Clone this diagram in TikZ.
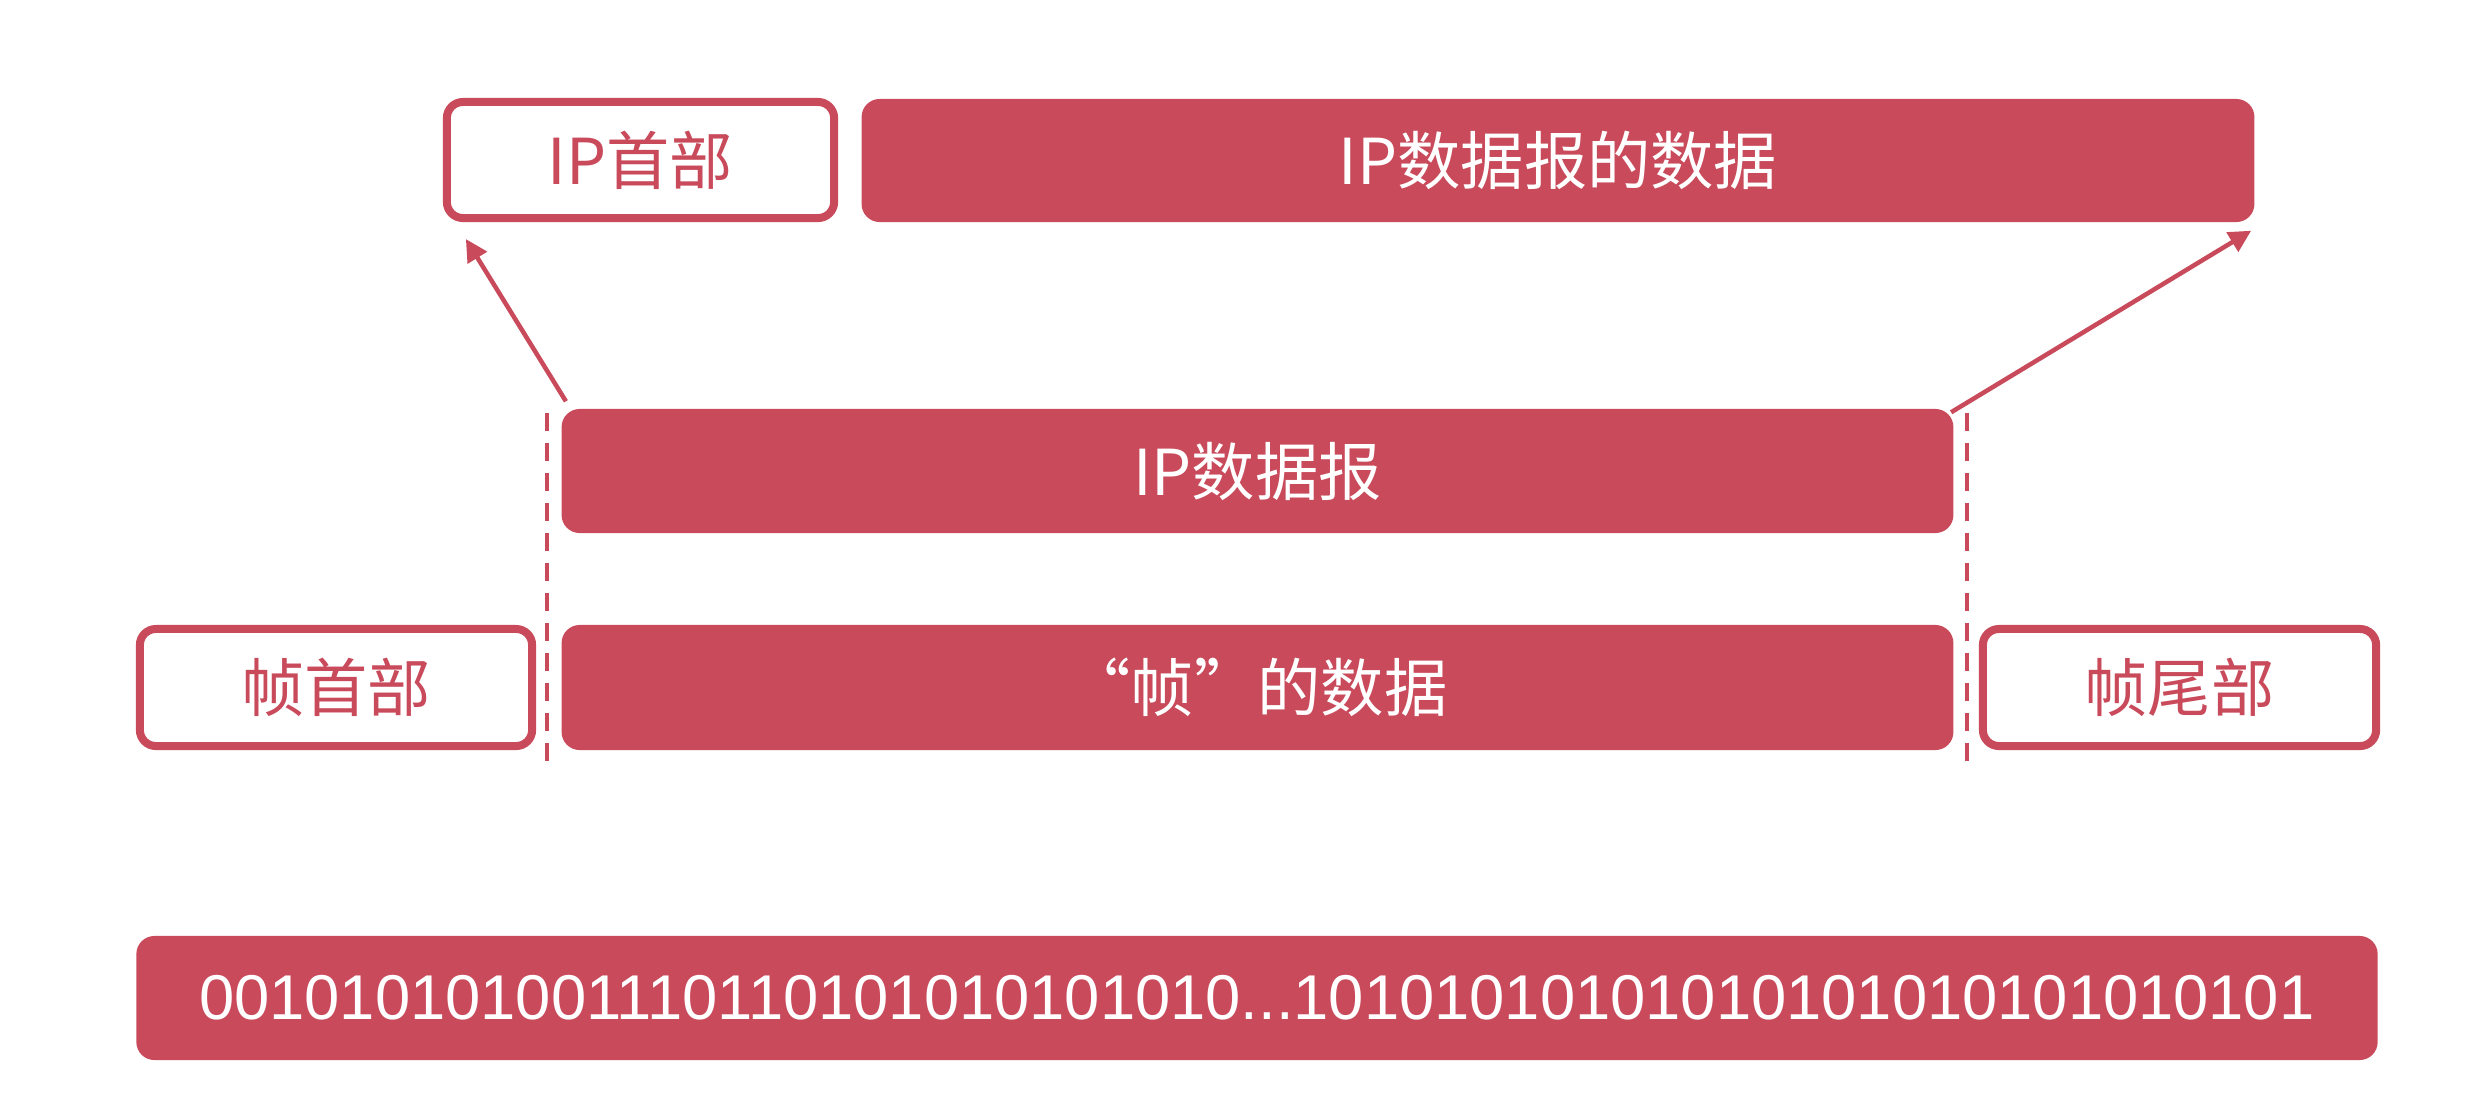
\documentclass[tikz,border=0pt]{standalone}
\usepackage{fontspec}
\setmainfont{Noto Sans CJK SC}
\newfontfamily\binfont{Liberation Sans}
\usetikzlibrary{arrows.meta}
\definecolor{myred}{RGB}{201,74,91}
\begin{document}
\begin{tikzpicture}[x=0.01cm,y=-0.01cm,
  fillbox/.style={rectangle, rounded corners=0.18cm, fill=myred, text=white, inner sep=0pt,
    font=\fontsize{18}{22}\selectfont},
  linebox/.style={rectangle, rounded corners=0.16cm, draw=myred, line width=0.08cm, fill=white,
    text=myred, inner sep=0pt, font=\fontsize{18}{22}\selectfont},
  guide/.style={draw=myred, line width=0.035cm, dash pattern=on 0.18cm off 0.12cm},
  arr/.style={draw=myred, line width=0.045cm, -{Triangle[length=0.22cm,width=0.22cm]}}
]
\useasboundingbox[fill=white] (0,0) rectangle (2472,1108);

\node[linebox, minimum width=3.87cm, minimum height=1.16cm] (iph) at (640.5,160) {IP首部};
\node[fillbox, minimum width=13.92cm, minimum height=1.23cm] (ipdd) at (1558,160.5) {IP数据报的数据};
\node[fillbox, minimum width=13.91cm, minimum height=1.24cm] (ipd) at (1257.5,471) {IP数据报};
\node[linebox, minimum width=3.92cm, minimum height=1.17cm] (fh) at (336,687.5) {帧首部};
\node[fillbox, minimum width=13.91cm, minimum height=1.25cm] (fd) at (1257.5,687.5) {“帧”的数据};
\node[linebox, minimum width=3.93cm, minimum height=1.17cm] (ft) at (2179.5,687.5) {帧尾部};
\node[fillbox, minimum width=22.40cm, minimum height=1.24cm, font=\binfont\fontsize{18}{22}\selectfont] (bits) at (1257,998)
  {001010101001110110101010101010...10101010101010101010101010101};

\coordinate (d1a) at (547,413);
\coordinate (d1b) at (547,772);
\coordinate (d2a) at (1967,413);
\coordinate (d2b) at (1967,765);
\draw[guide] (d1a) -- (d1b);
\draw[guide] (d2a) -- (d2b);

\draw[arr] ([shift={(5,-7)}]ipd.north west) -- ([shift={(23,17)}]iph.south west);
\draw[arr] ([shift={(-3,4)}]ipd.north east) -- ([shift={(-4,8)}]ipdd.south east);
\end{tikzpicture}
\end{document}
